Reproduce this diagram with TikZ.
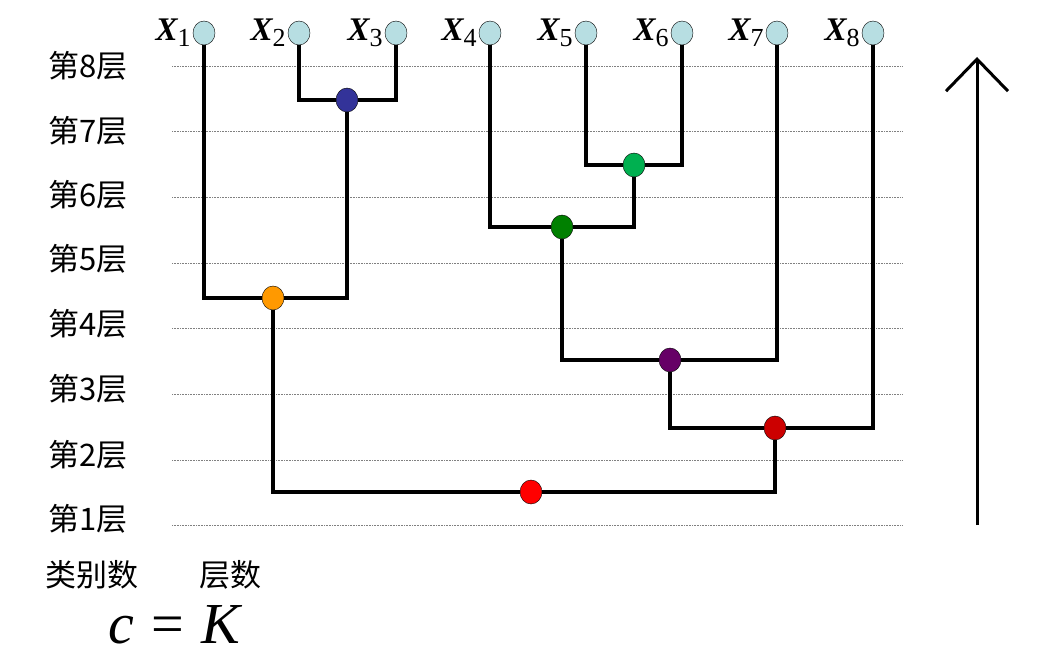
\documentclass[tikz,border=0pt]{standalone}
\usepackage{fontspec}
\setmainfont{Liberation Serif}
\newfontfamily\cjk{Noto Sans CJK SC}
\usetikzlibrary{positioning,arrows.meta,shapes.geometric}
\definecolor{leafc}{RGB}{183,222,226}
\definecolor{bluec}{RGB}{51,51,153}
\definecolor{lgreenc}{RGB}{0,176,80}
\definecolor{dgreenc}{RGB}{0,128,0}
\definecolor{orangec}{RGB}{255,153,0}
\definecolor{purplec}{RGB}{102,0,102}
\definecolor{dredc}{RGB}{204,0,0}
\definecolor{redc}{RGB}{255,0,0}
\newcommand{\xlab}[1]{{\fontsize{33}{33}\selectfont\bfseries\itshape X}\raisebox{-6pt}{\fontsize{26}{26}\selectfont #1}}
\tikzset{
  leaf/.style   = {ellipse, draw=black, thin, fill=leafc, minimum width=22pt,
                   minimum height=24pt, inner sep=0pt},
  merge/.style  = {ellipse, draw=black, thin, minimum width=22pt,
                   minimum height=24pt, inner sep=0pt},
  xname/.style  = {inner sep=1pt},
  layer/.style  = {draw=gray, dash pattern=on 0.8pt off 0.8pt, line width=0.8pt},
  lvl/.style    = {font=\cjk\fontsize{31}{31}\selectfont},
  link/.style   = {line width=3.2pt},
  rise/.style   = {line width=3pt, -{Straight Barb[length=32pt,width=62pt,line width=3pt]}},
}
\begin{document}
\begin{tikzpicture}[x=1pt, y=-1pt]
\useasboundingbox (0,0) rectangle (1064,660);

% --- layers -------------------------------------------------------------
\foreach \n/\ly/\ty in {8/66/66, 7/131/131, 6/197/195, 5/263/259,
                        4/328/324, 3/394/389, 2/460/455, 1/525/519} {
  \node[lvl] (lvl\n) at (88,\ty) {第\n 层};
  \draw[layer] (172,\ly) -- (902,\ly);
}

% --- samples ------------------------------------------------------------
\node[leaf] (x1) at (204,33) {};
\node[leaf] (x2) at (299,33) {};
\node[leaf] (x3) at (396,33) {};
\node[leaf] (x4) at (490,33) {};
\node[leaf] (x5) at (586,33) {};
\node[leaf] (x6) at (682,33) {};
\node[leaf] (x7) at (777,33) {};
\node[leaf] (x8) at (873,33) {};
\node[xname, left=1pt of x1] {\xlab{1}};
\node[xname, left=1pt of x2] {\xlab{2}};
\node[xname, left=1pt of x3] {\xlab{3}};
\node[xname, left=1pt of x4] {\xlab{4}};
\node[xname, left=1pt of x5] {\xlab{5}};
\node[xname, left=1pt of x6] {\xlab{6}};
\node[xname, left=1pt of x7] {\xlab{7}};
\node[xname, left=1pt of x8] {\xlab{8}};

% --- merges -------------------------------------------------------------
\node[merge, fill=bluec]    (m23)    at (347,100) {};
\node[merge, fill=lgreenc]  (m56)    at (634,165) {};
\node[merge, fill=dgreenc]  (m456)   at (562,227) {};
\node[merge, fill=orangec]  (m123)   at (273,298) {};
\node[merge, fill=purplec]  (m4567)  at (670,360) {};
\node[merge, fill=dredc]    (m45678) at (775,428) {};
\node[merge, fill=redc]     (mall)   at (531,492) {};

\draw[link] (x2) |- (m23) -| (x3);
\draw[link] (x5) |- (m56) -| (x6);
\draw[link] (x4) |- (m456) -| (m56);
\draw[link] (x1) |- (m123) -| (m23);
\draw[link] (m456) |- (m4567) -| (x7);
\draw[link] (m4567) |- (m45678) -| (x8);
\draw[link] (m123) |- (mall) -| (m45678);

% --- direction ----------------------------------------------------------
\coordinate (abot) at (977,525);
\coordinate (atop) at (977,57);
\draw[rise] (abot) -- (atop);

% --- captions -----------------------------------------------------------
\node[lvl] (ncls) at (92,575) {类别数};
\node[lvl] (nlvl) at (230,575) {层数};
\node (eq) at (174,625) {\fontsize{58}{58}\selectfont\itshape c\hspace{0.3em}\upshape=\hspace{0.3em}\itshape K};

\end{tikzpicture}
\end{document}
